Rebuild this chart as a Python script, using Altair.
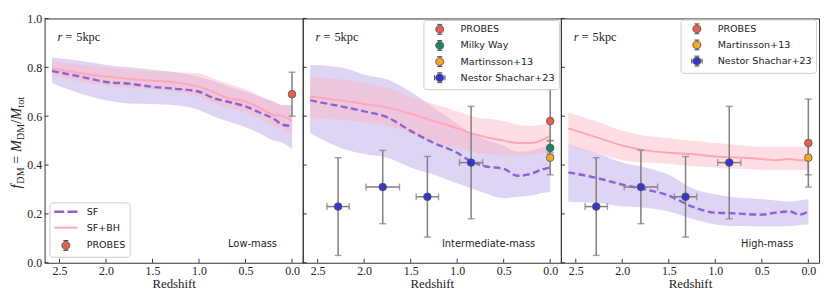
import math
import altair as alt
import pandas as pd

# ---------------- data ----------------
z_grid = [2.58, 2.25, 2.0, 1.75, 1.5, 1.25, 1.0, 0.85, 0.7, 0.5, 0.35, 0.2, 0.1, 0.0]

# Low-mass
low_sf    = [0.785, 0.76, 0.74, 0.733, 0.72, 0.712, 0.70, 0.675, 0.66, 0.64, 0.615, 0.59, 0.565, 0.56]
low_sf_lo = [0.735, 0.69, 0.665, 0.652, 0.65, 0.645, 0.625, 0.60, 0.58, 0.555, 0.53, 0.50, 0.49, 0.465]
low_sf_hi = [0.84, 0.825, 0.81, 0.80, 0.79, 0.78, 0.76, 0.745, 0.725, 0.70, 0.68, 0.66, 0.645, 0.645]
low_bh    = [0.795, 0.775, 0.762, 0.752, 0.745, 0.738, 0.72, 0.70, 0.675, 0.66, 0.635, 0.605, 0.60, 0.58]
low_bh_lo = [0.765, 0.74, 0.725, 0.715, 0.71, 0.70, 0.68, 0.655, 0.635, 0.615, 0.59, 0.56, 0.545, 0.52]
low_bh_hi = [0.825, 0.81, 0.80, 0.79, 0.785, 0.78, 0.775, 0.755, 0.735, 0.71, 0.685, 0.66, 0.645, 0.645]

# Intermediate-mass
mid_sf    = [0.665, 0.64, 0.62, 0.595, 0.54, 0.49, 0.45, 0.415, 0.395, 0.385, 0.356, 0.365, 0.38, 0.39]
mid_sf_lo = [0.53, 0.47, 0.445, 0.43, 0.39, 0.36, 0.325, 0.305, 0.285, 0.265, 0.27, 0.275, 0.285, 0.29]
mid_sf_hi = [0.81, 0.80, 0.77, 0.75, 0.70, 0.635, 0.57, 0.53, 0.505, 0.48, 0.455, 0.46, 0.47, 0.48]
mid_bh    = [0.68, 0.665, 0.65, 0.635, 0.61, 0.58, 0.55, 0.53, 0.515, 0.50, 0.49, 0.49, 0.50, 0.52]
mid_bh_lo = [0.595, 0.585, 0.575, 0.56, 0.53, 0.495, 0.47, 0.455, 0.445, 0.44, 0.44, 0.44, 0.45, 0.46]
mid_bh_hi = [0.76, 0.75, 0.735, 0.715, 0.68, 0.65, 0.62, 0.60, 0.59, 0.58, 0.565, 0.56, 0.565, 0.57]

# High-mass
high_sf    = [0.37, 0.345, 0.32, 0.30, 0.275, 0.23, 0.205, 0.203, 0.20, 0.197, 0.205, 0.21, 0.197, 0.21]
high_sf_lo = [0.25, 0.245, 0.23, 0.225, 0.21, 0.18, 0.157, 0.152, 0.15, 0.148, 0.148, 0.15, 0.155, 0.157]
high_sf_hi = [0.485, 0.445, 0.41, 0.39, 0.36, 0.305, 0.28, 0.27, 0.265, 0.26, 0.255, 0.25, 0.255, 0.26]
high_bh    = [0.55, 0.51, 0.48, 0.46, 0.45, 0.445, 0.435, 0.432, 0.43, 0.425, 0.42, 0.425, 0.42, 0.42]
high_bh_lo = [0.48, 0.445, 0.42, 0.41, 0.405, 0.395, 0.39, 0.385, 0.385, 0.38, 0.38, 0.38, 0.38, 0.38]
high_bh_hi = [0.615, 0.575, 0.54, 0.52, 0.51, 0.50, 0.49, 0.485, 0.48, 0.475, 0.475, 0.475, 0.475, 0.475]

# observations at z = 0
low_obs_labels = ["PROBES"]
low_obs_f = [0.69]
low_obs_err = [0.09]

mid_obs_labels = ["PROBES", "Milky Way", "Martinsson+13"]
mid_obs_f = [0.58, 0.47, 0.43]
mid_obs_err = [0.13, 0.03, 0.07]

high_obs_labels = ["PROBES", "Martinsson+13"]
high_obs_f = [0.49, 0.43]
high_obs_err = [0.18, 0.07]

# Nestor Shachar+23
nestor_z = [2.28, 1.80, 1.32, 0.85]
nestor_zerr = [0.12, 0.18, 0.12, 0.125]
nestor_f = [0.23, 0.31, 0.27, 0.41]
nestor_ferr = [0.20, 0.15, 0.165, 0.23]

obs_names = ["PROBES", "Milky Way", "Martinsson+13", "Nestor Shachar+23"]
obs_colors = ["#e8604c", "#1b8a5a", "#f5a623", "#3535cf"]

x_ticks = [2.5, 2.0, 1.5, 1.0, 0.5, 0.0]
y_ticks = [0.0, 0.2, 0.4, 0.6, 0.8, 1.0]

panel_names = ["Low-mass", "Intermediate-mass", "High-mass"]

# ---------------- style ----------------
SERIF = "Liberation Serif"
SANS = "DejaVu Sans"
W, H = 261, 247
X_DOMAIN = [2.66, -0.115]
PURPLE_BAND = "#9370db"
PINK_BAND = "#ffb6c1"
SF_LINE = "#8a63d2"
BH_LINE = "#ffa6b8"
ERR = "#7f7f7f"
EDGE = "#555555"

# legend glyphs (unit = sqrt(symbolSize)/2 = 5 px)
RC = 0.8
CIRCLE = "M" + "L".join(
    f"{RC * math.cos(2 * math.pi * k / 20):.3f},{RC * math.sin(2 * math.pi * k / 20):.3f}"
    for k in range(20)) + "Z"
VBAR = "M0,-1L0,-0.8M0,0.8L0,1M-0.52,-1L0.52,-1M-0.52,1L0.52,1"
HBAR = "M-1.06,0L-0.8,0M0.8,0L1.06,0M-1.06,-0.52L-1.06,0.52M1.06,-0.52L1.06,0.52"
DASH = "M-2.34,-0.25H-0.33V0.25H-2.34ZM0.33,-0.25H2.34V0.25H0.33Z"
SOLID = "M-2.34,-0.2H2.34V0.2H-2.34Z"


def make_legend(lx, ly, row_pad):
    return alt.Legend(
        title=None, orient="none", legendX=lx, legendY=ly, padding=4,
        symbolSize=100, symbolStrokeWidth=1, symbolOpacity=1, symbolFillColor="white",
        labelFont=SANS, labelFontSize=9.7, labelColor="#222", labelOffset=15.5,
        symbolOffset=7, rowPadding=row_pad, strokeColor="#cccccc",
        fillColor="rgba(255,255,255,0.85)", cornerRadius=3, labelLimit=300,
    )


def panel(curves, obs_labels, obs_f, obs_err, with_nestor, leg, label, show_y):
    sf, sf_lo, sf_hi, bh, bh_lo, bh_hi = curves
    cdf = pd.DataFrame({"z": z_grid, "sf": sf, "sf_lo": sf_lo, "sf_hi": sf_hi,
                        "bh": bh, "bh_lo": bh_lo, "bh_hi": bh_hi})
    odf = pd.DataFrame({"z": [0.0] * len(obs_labels), "f": obs_f, "label": obs_labels})
    odf["lo"] = [f - e for f, e in zip(obs_f, obs_err)]
    odf["hi"] = [f + e for f, e in zip(obs_f, obs_err)]
    ndf = pd.DataFrame({"z": nestor_z, "f": nestor_f, "label": "Nestor Shachar+23"})
    ndf["lo"] = [f - e for f, e in zip(nestor_f, nestor_ferr)]
    ndf["hi"] = [f + e for f, e in zip(nestor_f, nestor_ferr)]
    ndf["zlo"] = [z - e for z, e in zip(nestor_z, nestor_zerr)]
    ndf["zhi"] = [z + e for z, e in zip(nestor_z, nestor_zerr)]
    allobs = pd.concat([ndf[["z", "f", "label", "lo", "hi"]], odf]) if with_nestor else odf

    xs = alt.Scale(domain=X_DOMAIN, nice=False, zero=False)
    ys = alt.Scale(domain=[0, 1], nice=False, zero=False)
    xax = alt.Axis(title="Redshift", values=x_ticks, format=".1f", ticks=False, domain=False,
                   grid=False, labelFont=SERIF, labelFontSize=12, labelColor="#222",
                   labelPadding=3, titleFont=SERIF, titleFontSize=13, titleFontWeight="normal",
                   titleColor="#222", titlePadding=1)
    if show_y:
        yax = alt.Axis(title=None, values=y_ticks, format=".1f", ticks=False, domain=False,
                       grid=False, labelFont=SERIF, labelFontSize=12, labelColor="#222",
                       labelPadding=3)
    else:
        yax = None

    def X(f):
        return alt.X(f, type="quantitative", scale=xs, axis=xax)

    def Y(f):
        return alt.Y(f, type="quantitative", scale=ys, axis=yax)

    base = alt.Chart(cdf)
    layers = [
        base.mark_area(color=PURPLE_BAND, opacity=0.3, interpolate="monotone").encode(
            x=X("z"), y=Y("sf_lo"), y2="sf_hi"),
        base.mark_area(color=PINK_BAND, opacity=0.45, interpolate="monotone").encode(
            x=X("z"), y=Y("bh_lo"), y2="bh_hi"),
        base.mark_line(color=SF_LINE, strokeDash=[7, 3.5], strokeWidth=2.4,
                       interpolate="monotone").encode(x=X("z"), y=Y("sf")),
        base.mark_line(color=BH_LINE, strokeWidth=2, interpolate="monotone").encode(
            x=X("z"), y=Y("bh")),
    ]

    ob = alt.Chart(allobs)
    layers += [
        ob.mark_rule(color=ERR, strokeWidth=1.5).encode(x=X("z"), y=Y("lo"), y2="hi"),
        ob.mark_tick(color=ERR, orient="horizontal", size=7, thickness=1.5).encode(
            x=X("z"), y=Y("lo")),
        ob.mark_tick(color=ERR, orient="horizontal", size=7, thickness=1.5).encode(
            x=X("z"), y=Y("hi")),
    ]
    if with_nestor:
        nb = alt.Chart(ndf)
        layers += [
            nb.mark_rule(color=ERR, strokeWidth=1.5).encode(x=X("zlo"), x2="zhi", y=Y("f")),
            nb.mark_tick(color=ERR, orient="vertical", size=7, thickness=1.5).encode(
                x=X("zlo"), y=Y("f")),
            nb.mark_tick(color=ERR, orient="vertical", size=7, thickness=1.5).encode(
                x=X("zhi"), y=Y("f")),
        ]
    # marker colours (domain order differs from the legend domain on purpose)
    layers.append(
        ob.mark_circle(size=60, opacity=1, stroke=EDGE, strokeWidth=0.8).encode(
            x=X("z"), y=Y("f"),
            color=alt.Color("label:N",
                            scale=alt.Scale(domain=obs_names[::-1], range=obs_colors[::-1]),
                            legend=None))
    )

    # legend-only layer (invisible marks, visible legend)
    dom, shp, fil, stk, lx, ly, rp = leg
    L = make_legend(lx, ly, rp)
    layers.append(
        ob.mark_point(opacity=0, filled=False).encode(
            x=X("z"), y=Y("f"),
            shape=alt.Shape("label:N", scale=alt.Scale(domain=dom, range=shp), legend=L),
            fill=alt.Fill("label:N", scale=alt.Scale(domain=dom, range=fil), legend=L),
            stroke=alt.Stroke("label:N", scale=alt.Scale(domain=dom, range=stk), legend=L),
        )
    )

    # inward ticks
    ytdf = pd.DataFrame({"v": y_ticks})
    xtdf = pd.DataFrame({"v": x_ticks})
    layers += [
        alt.Chart(ytdf).mark_rule(color="#333", strokeWidth=1).encode(
            y=Y("v"), x=alt.value(0), x2=alt.value(4)),
        alt.Chart(xtdf).mark_rule(color="#333", strokeWidth=1).encode(
            x=X("v"), y=alt.value(H), y2=alt.value(H - 4)),
    ]

    # annotations
    one = alt.Chart(pd.DataFrame({"a": [0]}))
    layers += [
        one.mark_text(text="r", font=SERIF, fontSize=12.5, fontStyle="italic", align="left",
                      baseline="alphabetic", color="#222").encode(x=alt.value(13), y=alt.value(23)),
        one.mark_text(text="=", font=SERIF, fontSize=12.5, align="left",
                      baseline="alphabetic", color="#222").encode(x=alt.value(21), y=alt.value(23)),
        one.mark_text(text="5kpc", font=SERIF, fontSize=12.5, align="left",
                      baseline="alphabetic", color="#222").encode(x=alt.value(32), y=alt.value(23)),
        one.mark_text(text=label, font=SANS, fontSize=10, align="right",
                      baseline="alphabetic", color="#222").encode(x=alt.value(W - 26), y=alt.value(H - 16)),
    ]

    if show_y:
        pieces = [("f", "italic", 14.5, 0, 0), ("DM", "normal", 10.2, 3.4, 5),
                  ("=", "normal", 14.5, 0, 25), ("M", "italic", 14.5, 0, 37),
                  ("DM", "normal", 10.2, 3.4, 49.2), ("/", "normal", 14.5, 0, 65.6),
                  ("M", "italic", 14.5, 0, 69.6), ("tot", "normal", 10.2, 3.4, 81.8)]
        for txt, style, fs, dy, dx in pieces:
            layers.append(
                one.mark_text(text=txt, font=SERIF, fontSize=fs, fontStyle=style, angle=270,
                              align="left", baseline="alphabetic", dx=dx, dy=dy,
                              color="#222").encode(x=alt.value(-24), y=alt.value(172))
            )

    return alt.layer(*layers).properties(width=W, height=H)


vshape = VBAR + CIRCLE
leg_low = (["SF", "SF+BH", "PROBES"], [DASH, SOLID, vshape],
           [SF_LINE, BH_LINE, obs_colors[0]], ["transparent", "transparent", EDGE],
           5, 186, 5)
leg_mid = (obs_names, [vshape, vshape, vshape, VBAR + HBAR + CIRCLE],
           obs_colors, [EDGE] * 4, 122, 1.5, 1.3)
leg_high = (["PROBES", "Martinsson+13", "Nestor Shachar+23"], [vshape, vshape, VBAR + HBAR + CIRCLE],
            [obs_colors[0], obs_colors[2], obs_colors[3]], [EDGE] * 3, 121, 1, 1.3)

p1 = panel((low_sf, low_sf_lo, low_sf_hi, low_bh, low_bh_lo, low_bh_hi),
           low_obs_labels, low_obs_f, low_obs_err, False, leg_low, panel_names[0], True)
p2 = panel((mid_sf, mid_sf_lo, mid_sf_hi, mid_bh, mid_bh_lo, mid_bh_hi),
           mid_obs_labels, mid_obs_f, mid_obs_err, True, leg_mid, panel_names[1], False)
p3 = panel((high_sf, high_sf_lo, high_sf_hi, high_bh, high_bh_lo, high_bh_hi),
           high_obs_labels, high_obs_f, high_obs_err, True, leg_high, panel_names[2], False)

chart = alt.hconcat(p1, p2, p3, spacing=0, bounds="flush").resolve_scale(
    x="independent", y="independent", color="independent",
    fill="independent", stroke="independent", shape="independent",
).resolve_legend(
    fill="independent", stroke="independent", shape="independent",
).configure_axis(
    labelFont=SERIF, titleFont=SERIF,
).configure_view(
    stroke="#333", strokeWidth=1,
).properties(
    padding={"left": 0, "top": 2, "right": 2, "bottom": 0})

chart.save("out.html", embed_options={"renderer": "svg", "actions": False})
